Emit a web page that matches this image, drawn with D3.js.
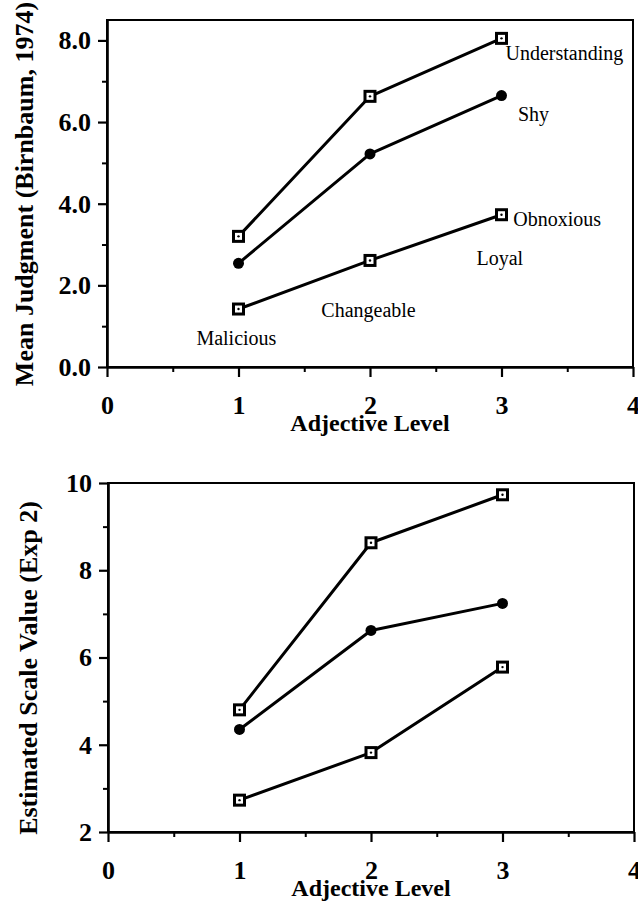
<!DOCTYPE html>
<html>
<head>
<meta charset="utf-8">
<script src="https://cdn.jsdelivr.net/npm/d3@7"></script>
<style>
  html, body { margin: 0; padding: 0; background: #fff; }
  svg { display: block; }
  text { font-family: "Liberation Serif", "Times New Roman", serif; fill: #000; }
</style>
</head>
<body>
<svg id="chart" width="638" height="904"></svg>
<script>
// ---------- data ----------
const levels = [1, 2, 3];
const xTickValues = [0, 1, 2, 3, 4];

// Panel 1: Mean Judgment (Birnbaum, 1974)
const topUnderstanding = [3.2, 6.63, 8.05];
const topShy = [2.54, 5.22, 6.65];
const topObnoxious = [1.42, 2.61, 3.73];
const topYTicks = [0, 2, 4, 6, 8];
const topYMinor = [1, 3, 5, 7];

// Panel 2: Estimated Scale Value (Exp 2)
const botUnderstanding = [4.8, 8.63, 9.73];
const botShy = [4.35, 6.62, 7.24];
const botObnoxious = [2.73, 3.82, 5.78];
const botYTicks = [2, 4, 6, 8, 10];
const botYMinor = [3, 5, 7, 9];

// adjective annotations in panel 1 (anchored in data units)
const annotNames = ["Understanding", "Shy", "Obnoxious", "Loyal", "Changeable", "Malicious"];
const annotX = [3.03, 3.125, 3.09, 2.81, 1.63, 0.68];
const annotY = [7.52, 6.03, 3.46, 2.5, 1.23, 0.54];

const xTitle = "Adjective Level";
const topYTitle = "Mean Judgment (Birnbaum, 1974)";
const botYTitle = "Estimated Scale Value (Exp 2)";

// ---------- drawing ----------
const svg = d3.select("#chart");

function panel(cfg) {
  const x = d3.scaleLinear().domain([0, 4]).range([cfg.left, cfg.right]);
  const y = d3.scaleLinear().domain(cfg.yDomain).range([cfg.bottom, cfg.top]);
  const g = svg.append("g");

  // frame (top & right)
  g.append("rect")
    .attr("x", cfg.left).attr("y", cfg.top)
    .attr("width", cfg.right - cfg.left).attr("height", cfg.bottom - cfg.top)
    .attr("fill", "none").attr("stroke", "#000").attr("stroke-width", 2);

  // minor x ticks
  const xMinor = g.append("g").attr("transform", `translate(0,${cfg.bottom})`)
    .call(d3.axisBottom(x).tickValues([0.5, 1.5, 2.5, 3.5]).tickSize(5).tickFormat(""));
  xMinor.select(".domain").remove();
  xMinor.selectAll("line").attr("stroke-width", 2);

  // major x axis
  const xa = g.append("g").attr("transform", `translate(0,${cfg.bottom})`)
    .call(d3.axisBottom(x).tickValues(xTickValues).tickSize(10).tickSizeOuter(0).tickFormat(d3.format("d")));
  xa.select(".domain").attr("stroke-width", 2.6);
  xa.selectAll("line").attr("stroke-width", 2.2);
  xa.selectAll("text")
    .attr("y", 47).attr("dy", null)
    .style("font-size", "26px").style("font-weight", "bold")
    .style("font-family", "'Liberation Serif', serif");

  // minor y ticks
  const yMinor = g.append("g").attr("transform", `translate(${cfg.left},0)`)
    .call(d3.axisLeft(y).tickValues(cfg.yMinor).tickSize(5).tickFormat(""));
  yMinor.select(".domain").remove();
  yMinor.selectAll("line").attr("stroke-width", 2);

  // major y axis
  const ya = g.append("g").attr("transform", `translate(${cfg.left},0)`)
    .call(d3.axisLeft(y).tickValues(cfg.yTicks).tickSize(9).tickSizeOuter(0).tickPadding(7).tickFormat(cfg.yFormat));
  ya.select(".domain").attr("stroke-width", 2.6);
  ya.selectAll("line").attr("stroke-width", 2.2);
  ya.selectAll("text")
    .style("font-size", "26px").style("font-weight", "bold")
    .style("font-family", "'Liberation Serif', serif");

  // axis titles
  g.append("text")
    .attr("x", x(2)).attr("y", cfg.bottom + 64)
    .attr("text-anchor", "middle")
    .style("font-size", "24px").style("font-weight", "bold")
    .text(xTitle);

  g.append("text")
    .attr("transform", `translate(${cfg.yTitleX},${cfg.yTitleY}) rotate(-90)`)
    .attr("text-anchor", "middle")
    .style("font-size", "26px").style("font-weight", "bold")
    .text(cfg.yTitle);

  // series
  const line = d3.line().x((d, i) => x(levels[i])).y(d => y(d));
  cfg.series.forEach(s => {
    g.append("path").datum(s.values)
      .attr("d", line)
      .attr("fill", "none").attr("stroke", "#000")
      .attr("stroke-width", 3).attr("stroke-linejoin", "round");
  });
  cfg.series.forEach(s => {
    const pts = s.values.map((v, i) => [x(levels[i]), y(v)]);
    if (s.marker === "circle") {
      g.selectAll(null).data(pts).join("circle")
        .attr("cx", d => d[0]).attr("cy", d => d[1]).attr("r", 5.5)
        .attr("fill", "#000");
    } else {
      g.selectAll(null).data(pts).join("rect")
        .attr("x", d => d[0] - 5).attr("y", d => d[1] - 5)
        .attr("width", 10).attr("height", 10)
        .attr("fill", "#fff").attr("stroke", "#000").attr("stroke-width", 3);
      g.selectAll(null).data(pts).join("circle")
        .attr("cx", d => d[0]).attr("cy", d => d[1]).attr("r", 1.2)
        .attr("fill", "#000");
    }
  });

  return { x, y, g };
}

const p1 = panel({
  left: 107, right: 633, top: 20, bottom: 367,
  yDomain: [0, 8.5], yTicks: topYTicks, yMinor: topYMinor,
  yFormat: d3.format(".1f"),
  yTitle: topYTitle, yTitleX: 33, yTitleY: 194,
  series: [
    { values: topUnderstanding, marker: "square" },
    { values: topShy, marker: "circle" },
    { values: topObnoxious, marker: "square" }
  ]
});

const p2 = panel({
  left: 108, right: 634, top: 483, bottom: 832,
  yDomain: [2, 10], yTicks: botYTicks, yMinor: botYMinor,
  yFormat: d3.format("d"),
  yTitle: botYTitle, yTitleX: 37, yTitleY: 668,
  series: [
    { values: botUnderstanding, marker: "square" },
    { values: botShy, marker: "circle" },
    { values: botObnoxious, marker: "square" }
  ]
});

// annotations on panel 1
p1.g.selectAll(null).data(annotNames).join("text")
  .attr("x", (d, i) => p1.x(annotX[i]))
  .attr("y", (d, i) => p1.y(annotY[i]))
  .style("font-size", "20px")
  .text(d => d);
</script>
</body>
</html>
